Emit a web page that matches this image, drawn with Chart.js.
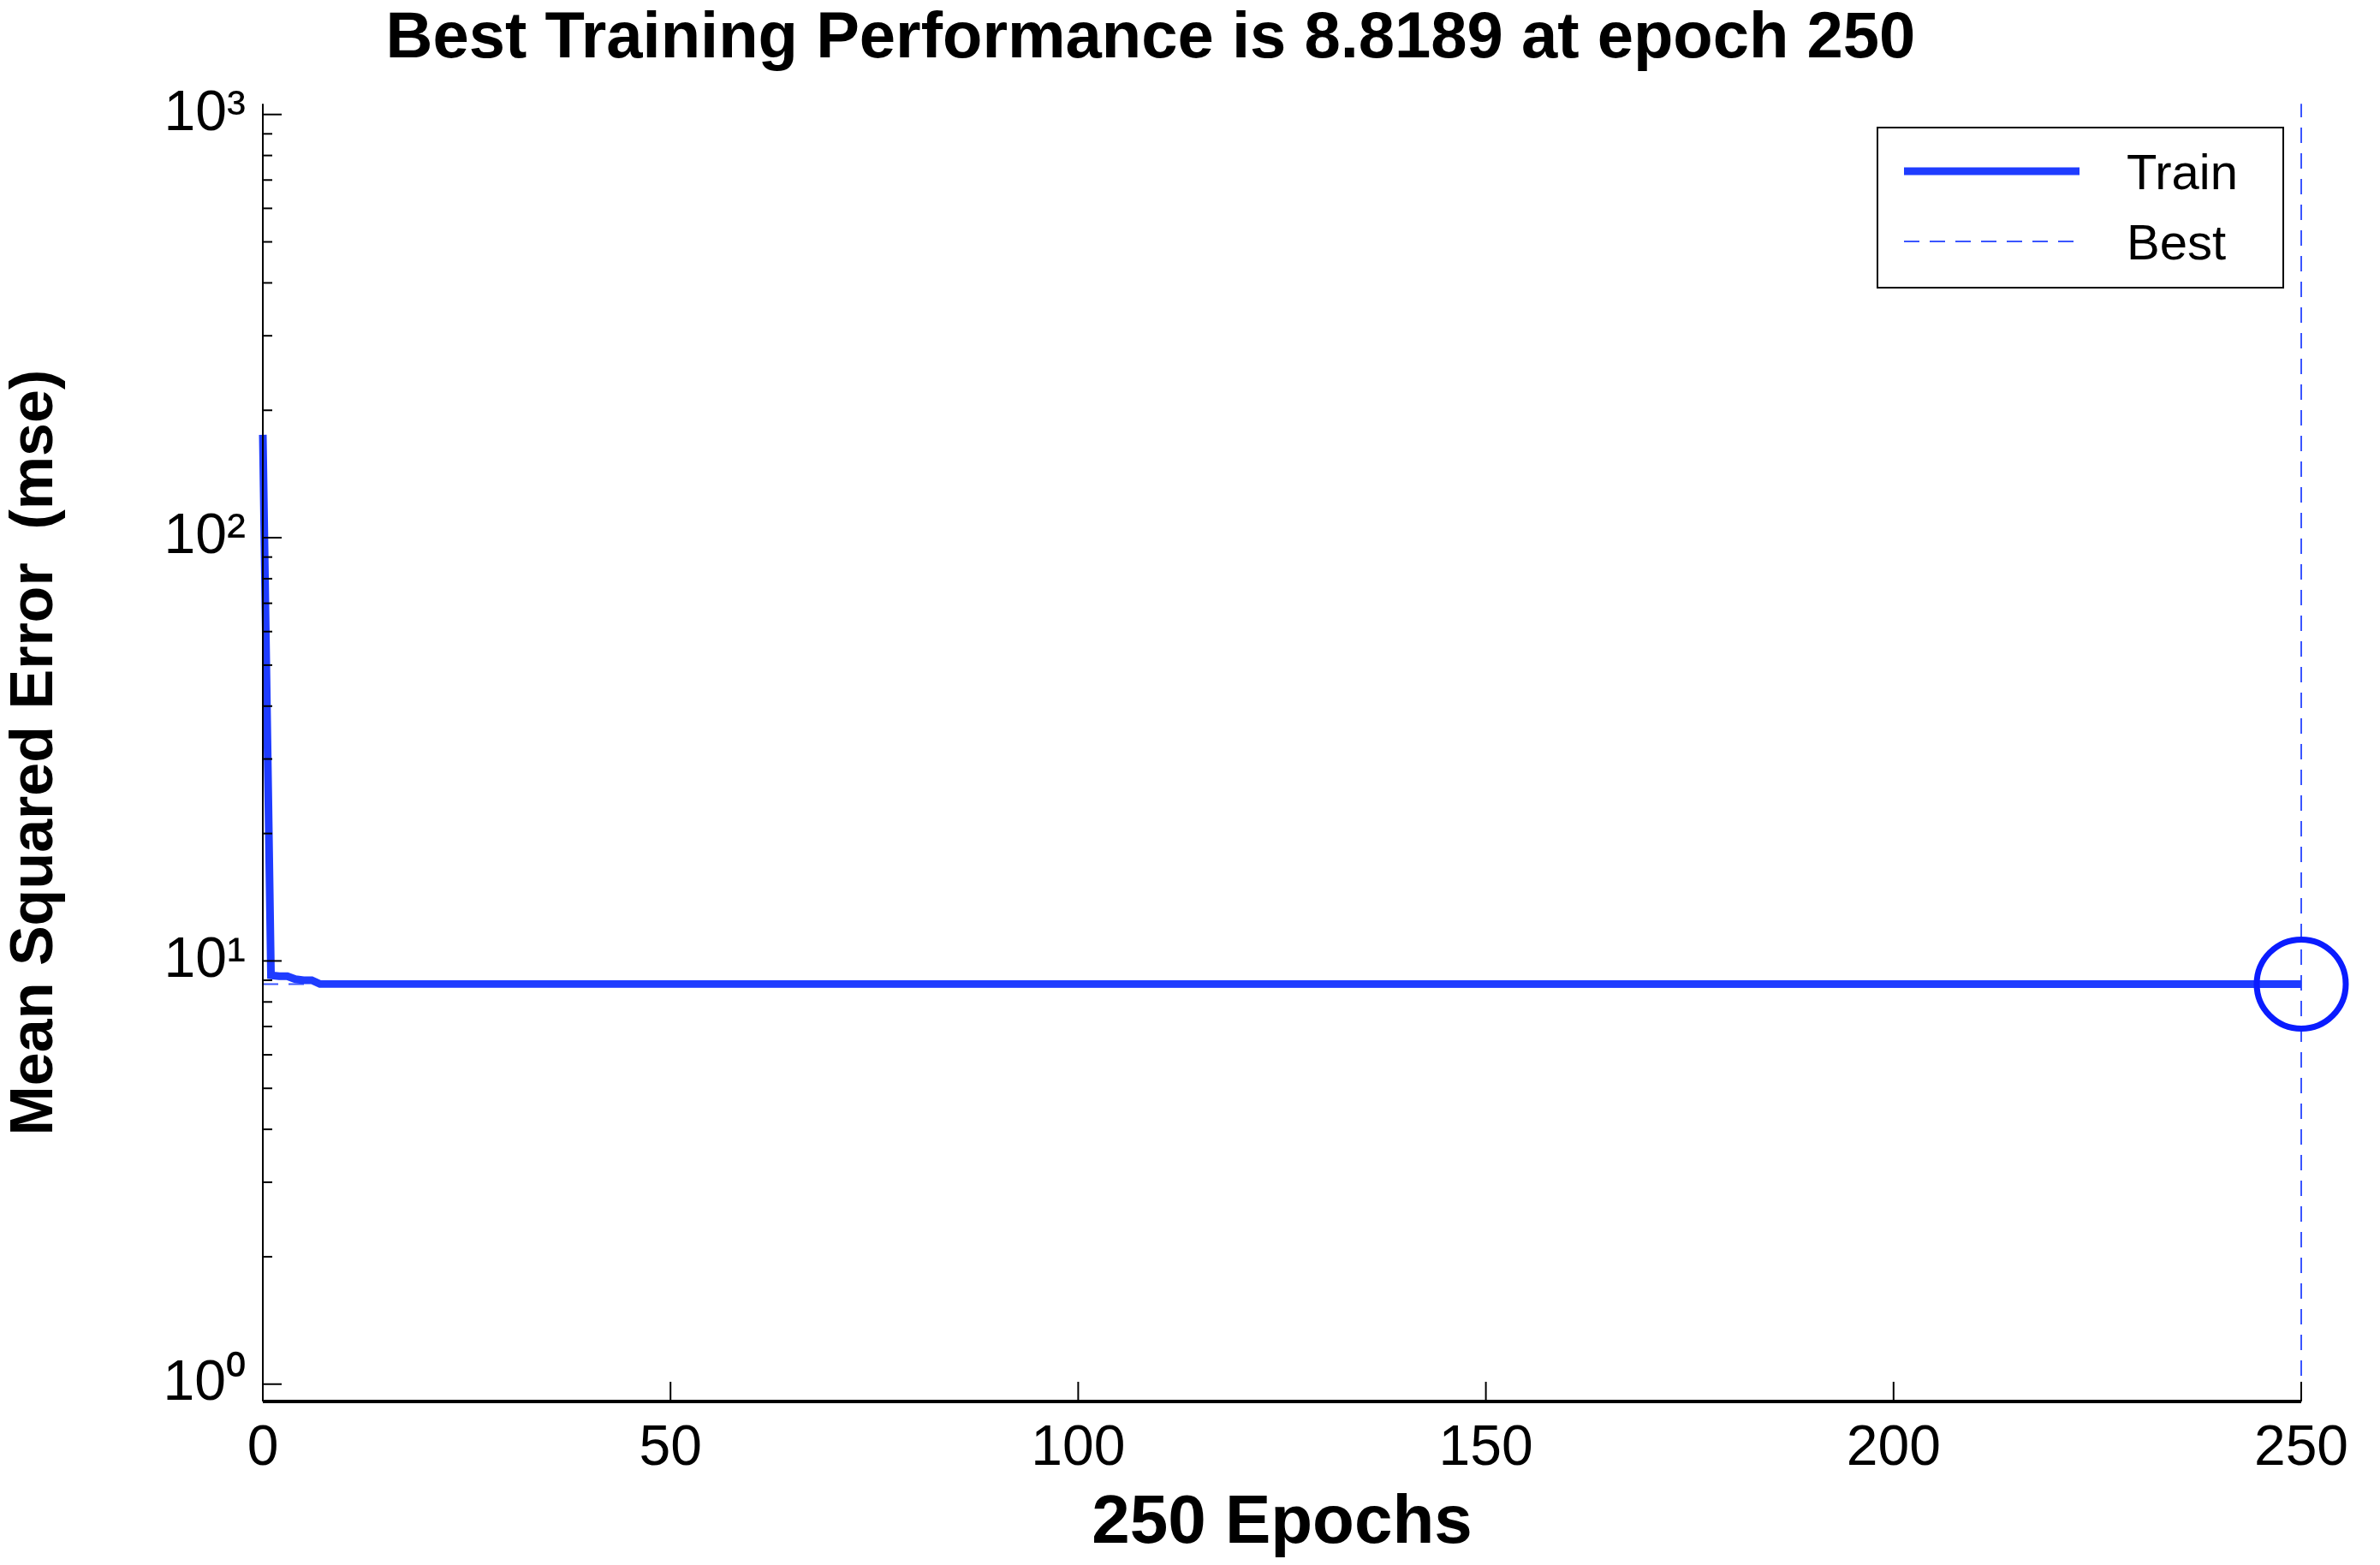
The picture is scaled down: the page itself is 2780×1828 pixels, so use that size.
<!DOCTYPE html>
<html>
<head>
<meta charset="utf-8">
<script src="https://cdn.jsdelivr.net/npm/chart.js@4/dist/chart.umd.min.js"></script>
<style>
  html, body { margin: 0; padding: 0; background: #fff; }
  #wrap { position: relative; width: 2780px; height: 1828px; }
  #legend {
    position: absolute; left: 2192px; top: 148px; width: 472px; height: 185px;
    border: 2px solid #000; background: #fff; font-family: "Liberation Sans", Arial, sans-serif;
    font-size: 58px; color: #000;
  }
  .row { position: absolute; left: 0; height: 60px; display: flex; align-items: center; }
  .row span { position: absolute; left: 290px; }
</style>
</head>
<body>
<div id="wrap">
  <canvas id="myChart" width="2780" height="1828"></canvas>
  <div id="legend">
    <div class="row" style="top:50px;transform:translateY(-30px)">
      <svg width="280" height="60" style="margin-left:30px"><line x1="0" y1="30" x2="205" y2="30" stroke="#1f3cff" stroke-width="9"/></svg>
      <span>Train</span>
    </div>
    <div class="row" style="top:132px;transform:translateY(-30px)">
      <svg width="280" height="60" style="margin-left:30px"><line x1="0" y1="30" x2="205" y2="30" stroke="#3a55ff" stroke-width="2" stroke-dasharray="18,12"/></svg>
      <span>Best</span>
    </div>
  </div>
</div>
<script>
// Dados
const epocas = [0, 1, 2, 3, 4, 5, 6, 7, 250];
const erroTreino = [175, 9.25, 9.2, 9.2, 9.05, 9.0, 9.0, 8.82, 8.8189];
const melhorEpoca = 250;
const melhorValor = 8.8189;
const ticksX = [0, 50, 100, 150, 200, 250];
const ticksY = [1, 10, 100, 1000];
const rotulosY = { 1: "10\u2070", 10: "10\u00b9", 100: "10\u00b2", 1000: "10\u00b3" };

const fonte = "'Liberation Sans', Arial, sans-serif";

// Ticks para dentro, estilo matlab
const ticksInternos = {
  id: "ticksInternos",
  afterDraw(chart) {
    const ctx = chart.ctx;
    const area = chart.chartArea;
    const x = chart.scales.x;
    const y = chart.scales.y;
    ctx.save();
    ctx.strokeStyle = "#000";
    ctx.lineWidth = 2;
    for (let d = 1; d <= 1000; d *= 10) {
      for (let m = 1; m <= 9; m++) {
        const v = d * m;
        if (v > 1000 || (d === 1000 && m > 1)) continue;
        const py = y.getPixelForValue(v);
        const len = m === 1 ? 22 : 11;
        ctx.beginPath();
        ctx.moveTo(area.left, py);
        ctx.lineTo(area.left + len, py);
        ctx.stroke();
      }
    }
    ctx.beginPath();
    ctx.moveTo(area.left, area.top);
    ctx.lineTo(area.left, area.bottom);
    ctx.stroke();
    ticksX.forEach((t) => {
      const px = x.getPixelForValue(t);
      ctx.beginPath();
      ctx.moveTo(px, area.bottom);
      ctx.lineTo(px, area.bottom - 23);
      ctx.stroke();
    });
    ctx.lineWidth = 4;
    ctx.beginPath();
    ctx.moveTo(area.left, area.bottom);
    ctx.lineTo(area.right, area.bottom);
    ctx.stroke();
    ctx.restore();
  },
};

function grafico() {
  const ctx = document.getElementById("myChart");
  new Chart(ctx, {
    type: "line",
    data: {
      datasets: [
        {
          label: "Best",
          data: [{ x: melhorEpoca, y: 0.91 }, { x: melhorEpoca, y: 1060 }],
          borderColor: "#3a55ff",
          borderWidth: 2,
          borderDash: [18, 12],
          pointRadius: 0,
          order: 3,
        },
        {
          label: "BestH",
          data: [{ x: 0, y: melhorValor }, { x: melhorEpoca, y: melhorValor }],
          borderColor: "#3a55ff",
          borderWidth: 2,
          borderDash: [18, 12],
          pointRadius: 0,
          order: 2,
        },
        {
          label: "Train",
          data: epocas.map((e, i) => ({ x: e, y: erroTreino[i] })),
          borderColor: "#1f3cff",
          borderWidth: 9,
          pointRadius: 0,
          tension: 0,
          order: 1,
        },
        {
          label: "Circle",
          data: [{ x: melhorEpoca, y: melhorValor }],
          showLine: false,
          pointStyle: "circle",
          pointRadius: 52,
          borderColor: "#0a1cff",
          borderWidth: 7,
          backgroundColor: "rgba(0,0,0,0)",
          order: 0,
        },
      ],
    },
    options: {
      responsive: false,
      animation: false,
      clip: false,
      layout: { padding: { left: 0, right: 92, top: 0, bottom: 0 } },
      plugins: {
        legend: { display: false },
        tooltip: { enabled: false },
        title: {
          display: true,
          text: "Best Training Performance is 8.8189 at epoch 250",
          color: "#000",
          font: { family: fonte, size: 76, weight: "bold", lineHeight: 1.2 },
          padding: { top: 0, bottom: 30 },
        },
      },
      scales: {
        x: {
          type: "linear",
          min: 0,
          max: 250,
          grid: { display: false, drawTicks: false },
          border: { display: false },
          afterBuildTicks: (s) => { s.ticks = ticksX.map((v) => ({ value: v })); },
          afterFit: (s) => { s.height = 191; },
          ticks: { color: "#000", font: { family: fonte, size: 66 }, padding: 16, maxRotation: 0 },
          title: {
            display: true,
            text: "250 Epochs",
            color: "#000",
            font: { family: fonte, size: 80, weight: "bold" },
            padding: { top: 4, bottom: 0 },
          },
        },
        y: {
          type: "logarithmic",
          min: 0.91,
          max: 1060,
          grid: { display: false, drawTicks: false },
          border: { display: false },
          afterBuildTicks: (s) => { s.ticks = ticksY.map((v) => ({ value: v })); },
          afterFit: (s) => { s.width = 307; },
          ticks: {
            color: "#000",
            font: { family: fonte, size: 66 },
            padding: 20,
            callback: (v) => rotulosY[v] || "",
          },
          title: {
            display: true,
            text: "Mean Squared Error  (mse)",
            color: "#000",
            font: { family: fonte, size: 70, weight: "bold" },
            padding: { top: 0, bottom: 20 },
          },
        },
      },
    },
    plugins: [ticksInternos],
  });
}

grafico();
</script>
</body>
</html>
